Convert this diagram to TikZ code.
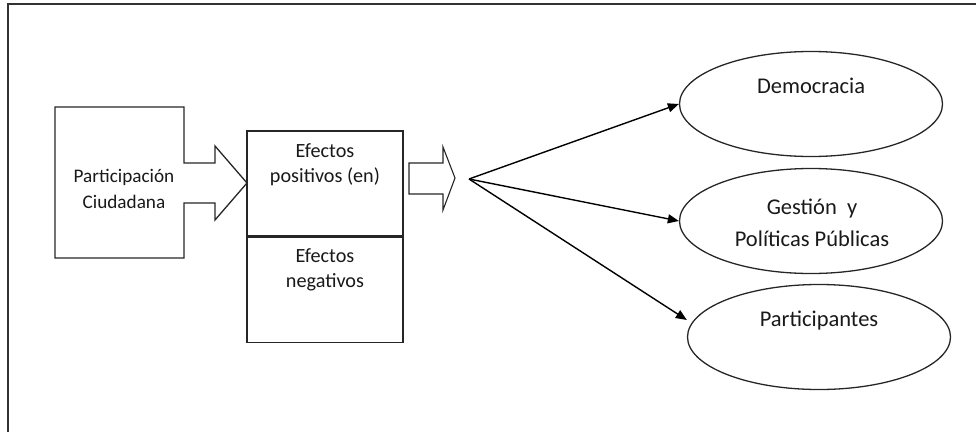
\documentclass[tikz,border=0pt]{standalone}
\usepackage{fontspec}
\setmainfont{Carlito}
\usetikzlibrary{arrows.meta,shapes.geometric,calc}

\tikzset{
  frameline/.style={draw=black!80, line width=2pt},
  outline/.style={draw=black!85, line width=1.3pt, line join=miter},
  label/.style={font=\fontsize{22.5}{25.5}\selectfont, align=center, inner sep=0pt, text=black!90},
  boxlabel/.style={label, font=\fontsize{20.2}{25}\selectfont},
  srclabel/.style={label, font=\fontsize{19.2}{26}\selectfont},
  oval/.style={ellipse, outline, minimum width=263pt, minimum height=105pt, inner sep=0pt},
  fanarrow/.style={draw=black, line width=1.4pt, -{Triangle[length=11pt,width=9pt]}}
}

\begin{document}
\begin{tikzpicture}[x=1pt, y=-1pt]
  \useasboundingbox (0,0) rectangle (976,431);

  % outer frame (open to the right and bottom)
  \draw[frameline] (8,445) -- (8,4) -- (990,4);

  % source box with its arrow-shaped notch
  \draw[outline] (55,107) -- (184,107) -- (184,163) -- (215,163) -- (215,146)
        -- (247,183) -- (215,220) -- (215,203) -- (184,203) -- (184,258)
        -- (55,258) -- cycle;
  \node[srclabel] (pc) at (124,189) {Participación\\Ciudadana};

  % effects box, split in two
  \node[outline, rectangle, minimum width=156pt, minimum height=105pt, inner sep=0pt]
        (pos) at (325,183.5) {};
  \node[outline, rectangle, minimum width=156pt, minimum height=105pt, inner sep=0pt,
        anchor=north] (neg) at (pos.south) {};
  \node[boxlabel] (postxt) at (325,165) {Efectos\\positivos (en)};
  \node[boxlabel] (negtxt) at (325,270) {Efectos\\negativos};

  % block arrow towards the fan
  \draw[outline, line width=1.1pt] (409,163) -- (443,163) -- (443,147) -- (455,178)
        -- (443,210) -- (443,194) -- (409,194) -- cycle;

  % fan point
  \coordinate (fan) at (469,179);

  % target ovals
  \node[oval] (dem) at (811,104) {};
  \node[oval] (gpp) at (811,221) {};
  \node[oval] (par) at (819,337) {};

  \node[label] (demtxt) at (811,86) {Democracia};
  \node[label, font=\fontsize{22.5}{32}\selectfont] (gpptxt) at (812,223) {Gestión~ y\\Políticas Públicas};
  \node[label] (partxt) at (819,321) {Participantes};

  % connectors
  \draw[fanarrow] (fan) -- (dem.west);
  \draw[fanarrow] (fan) -- (gpp.west);
  \draw[fanarrow] (fan) -- ($(par.west)+(0,-17)$);
\end{tikzpicture}
\end{document}
